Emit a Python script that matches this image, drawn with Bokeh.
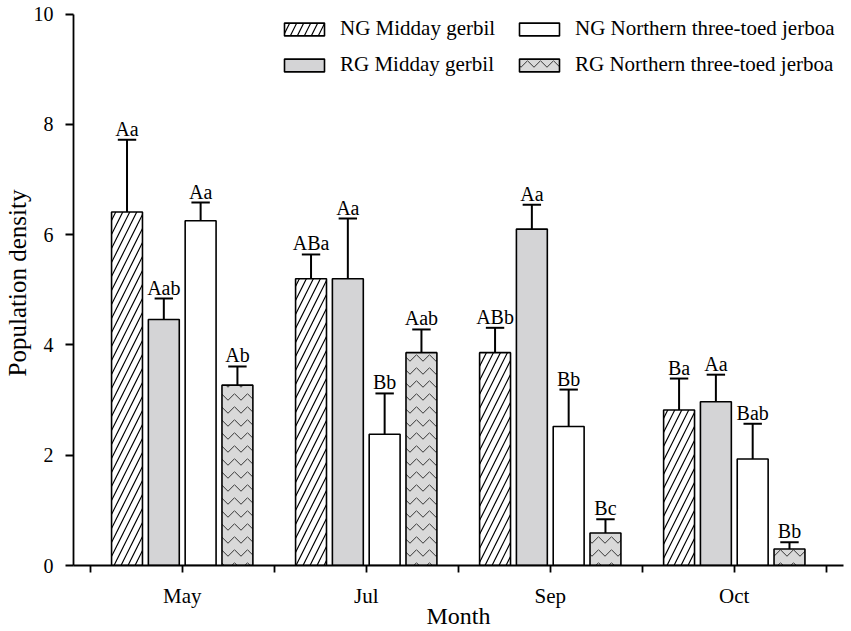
import numpy as np
from bokeh.plotting import figure
from bokeh.models import Range1d, FixedTicker, Legend, LegendItem
from bokeh.core.properties import value
from bokeh.embed import file_html
from bokeh.resources import INLINE

# ---- data ----
months = ["May", "Jul", "Sep", "Oct"]
series = ["NG Midday gerbil", "RG Midday gerbil",
          "NG Northern three-toed jerboa", "RG Northern three-toed jerboa"]

ng_gerbil = [6.41, 5.20, 3.86, 2.82]
ng_gerbil_err = [1.31, 0.44, 0.45, 0.57]
rg_gerbil = [4.46, 5.20, 6.10, 2.97]
rg_gerbil_err = [0.38, 1.09, 0.44, 0.49]
ng_jerboa = [6.25, 2.38, 2.52, 1.93]
ng_jerboa_err = [0.33, 0.74, 0.67, 0.64]
rg_jerboa = [3.27, 3.86, 0.59, 0.30]
rg_jerboa_err = [0.34, 0.42, 0.25, 0.12]

ng_gerbil_sig = ["Aa", "ABa", "ABb", "Ba"]
rg_gerbil_sig = ["Aab", "Aa", "Aa", "Aa"]
ng_jerboa_sig = ["Aa", "Bb", "Bb", "Bab"]
rg_jerboa_sig = ["Ab", "Aab", "Bc", "Bb"]

y_ticks = [0, 2, 4, 6, 8, 10]
x_title = "Month"
y_title = "Population density"

# ---- styles ----
FONT = "Liberation Serif"
styles = [
    dict(fill_color="white", hatch_pattern="/", hatch_color="black", hatch_scale=14, hatch_weight=1.2),
    dict(fill_color="#d4d4d6", hatch_pattern=None),
    dict(fill_color="white", hatch_pattern=None),
    dict(fill_color="#d9d9d9", hatch_pattern="v", hatch_color="#333333", hatch_scale=13, hatch_weight=1.0),
]
offsets = [-0.3, -0.1, 0.1, 0.3]
bar_w = 0.168
cap_half = 0.05

p = figure(width=851, height=631,
           x_range=Range1d(0.4092, 4.5935), y_range=Range1d(0, 10.245),
           output_backend="svg", toolbar_location=None,
           min_border_left=71, min_border_right=8, min_border_top=0, min_border_bottom=66)
p.outline_line_color = None
p.xgrid.grid_line_color = None
p.ygrid.grid_line_color = None
p.background_fill_color = "white"
p.border_fill_color = "white"

vals_all = [ng_gerbil, rg_gerbil, ng_jerboa, rg_jerboa]
errs_all = [ng_gerbil_err, rg_gerbil_err, ng_jerboa_err, rg_jerboa_err]
sig_all = [ng_gerbil_sig, rg_gerbil_sig, ng_jerboa_sig, rg_jerboa_sig]

centers = np.arange(1, len(months) + 1)
renderers = []
for vals, errs, sig, off, st in zip(vals_all, errs_all, sig_all, offsets, styles):
    xs = centers + off
    tops = np.array(vals) + np.array(errs)
    p.segment(x0=xs, y0=vals, x1=xs, y1=tops, line_color="black", line_width=2)
    p.segment(x0=xs - cap_half, y0=tops, x1=xs + cap_half, y1=tops, line_color="black", line_width=2)
    kw = dict(fill_color=st["fill_color"])
    if st["hatch_pattern"]:
        kw.update(hatch_pattern=st["hatch_pattern"], hatch_color=st["hatch_color"],
                  hatch_scale=st["hatch_scale"], hatch_weight=st["hatch_weight"])
    r = p.vbar(x=xs, top=vals, width=bar_w, bottom=0, line_color="black", line_width=1.6, **kw)
    renderers.append(r)
    p.text(x=xs, y=tops, text=sig, text_align="center", text_baseline="bottom",
           text_font=value(FONT), text_font_size="20px", text_color="black")

# ---- axes ----
p.yaxis.ticker = FixedTicker(ticks=y_ticks)
p.yaxis.bounds = (0, 10)
p.yaxis.axis_label = y_title
p.xaxis.ticker = FixedTicker(ticks=list(centers),
                             minor_ticks=[i + 0.5 for i in range(len(months) + 1)])
p.xaxis.major_label_overrides = {int(c): m for c, m in zip(centers, months)}
p.xaxis.axis_label = x_title

for ax in (p.xaxis[0], p.yaxis[0]):
    ax.axis_line_color = "black"
    ax.axis_line_width = 1.8
    ax.major_tick_line_color = "black"
    ax.major_tick_line_width = 1.8
    ax.major_tick_in = 0
    ax.major_label_text_font = FONT
    ax.major_label_text_color = "black"
    ax.axis_label_text_font = FONT
    ax.axis_label_text_font_style = "normal"
    ax.axis_label_text_color = "black"

p.yaxis.major_tick_out = 8
p.yaxis.minor_tick_out = 0
p.yaxis.minor_tick_in = 0
p.yaxis.major_label_standoff = 12
p.yaxis.major_label_text_font_size = "20px"
p.yaxis.axis_label_text_font_size = "25px"
p.yaxis.axis_label_standoff = 0

p.xaxis.major_tick_out = 7
p.xaxis.minor_tick_out = 7
p.xaxis.minor_tick_in = 0
p.xaxis.minor_tick_line_color = "black"
p.xaxis.minor_tick_line_width = 1.8
p.xaxis.major_label_standoff = 11
p.xaxis.major_label_text_font_size = "21px"
p.xaxis.axis_label_text_font_size = "24px"
p.xaxis.axis_label_standoff = -8

# ---- legend ----
legend = Legend(items=[LegendItem(label=s, renderers=[r]) for s, r in zip(series, renderers)],
                location=(206, 488), ncols=2,
                glyph_width=50, glyph_height=16, label_standoff=11, spacing=11, label_width=163,
                label_text_font=FONT, label_text_font_size="21px", label_text_color="black",
                padding=0, margin=0, border_line_color=None, background_fill_alpha=0)
p.add_layout(legend)

open("out.html", "w").write(file_html(p, INLINE))
